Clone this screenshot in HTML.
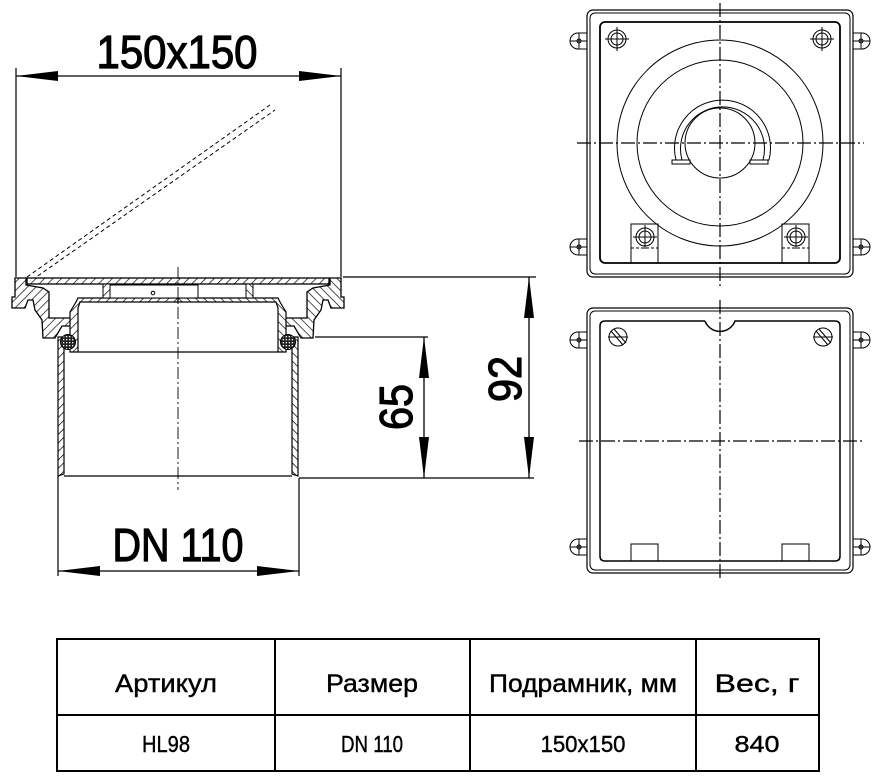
<!DOCTYPE html>
<html><head><meta charset="utf-8"><style>
html,body{margin:0;padding:0;background:#fff;}
svg{display:block;}
text{font-family:"Liberation Sans Narrow","Liberation Sans",sans-serif;fill:#000;}
.d{stroke:#000;stroke-width:1.2;}
.t{stroke:#000;stroke-width:0.4;}
</style></head><body>
<svg width="874" height="777" viewBox="0 0 874 777" xmlns="http://www.w3.org/2000/svg">
<defs>
<pattern id="h" width="6" height="6" patternUnits="userSpaceOnUse" patternTransform="rotate(45)">
<rect width="6" height="6" fill="#fff"/><line x1="0" y1="0" x2="0" y2="6" stroke="#000" stroke-width="1.4"/></pattern>
<pattern id="x" width="3" height="3" patternUnits="userSpaceOnUse">
<rect width="3" height="3" fill="#222"/><rect width="1.3" height="1.3" fill="#fff"/></pattern>
<g id="half">
<polygon points="15,278 26,278 26,285 43,288 49,292 49,318 74,318 74,326 62,326 55,338 43,338 42,320 35,310 33,300 28,300 25,308 12,308 12,297 15,297" fill="url(#h)" stroke="#000" stroke-width="1.3"/>
<polygon points="70,352 70,312 76,302 78,298 178,298 178,302 80,302 78,308 78,352" fill="url(#h)" stroke="#000" stroke-width="1.2"/>
<polygon points="58,337 64,337 64,474 58,476" fill="url(#h)" stroke="#000" stroke-width="1.2"/>
<circle cx="68" cy="342" r="7.5" fill="url(#x)" stroke="#000"/>
<polygon points="103,284 110,284 110,298 103,298" fill="url(#h)" stroke="#000"/>
</g>
</defs>
<!-- dimension 150x150 -->
<line x1="16" y1="68" x2="16" y2="277" stroke="#000" stroke-width="1.2"/>
<line x1="341" y1="68" x2="341" y2="277" stroke="#000" stroke-width="1.2"/>
<line x1="16" y1="76" x2="341" y2="76" stroke="#000" stroke-width="1.3"/>
<polygon points="16,76 58,71 58,81" fill="#000"/>
<polygon points="341,76 299,71 299,81" fill="#000"/>
<text class="d" x="177" y="68" font-size="46" text-anchor="middle" textLength="161" lengthAdjust="spacingAndGlyphs">150x150</text>
<!-- open lid dashed -->
<line x1="27" y1="277" x2="270" y2="105" stroke="#000" stroke-width="1" stroke-dasharray="4,3"/>
<line x1="32" y1="280" x2="275" y2="110" stroke="#000" stroke-width="1" stroke-dasharray="4,3"/>
<!-- lid -->
<rect x="27" y="278" width="302" height="6" fill="url(#h)" stroke="#000" stroke-width="1.3"/>
<use href="#half"/>
<use href="#half" transform="translate(356,0) scale(-1,1)"/>
<rect x="110" y="285" width="88" height="13" fill="#fff" stroke="#000"/>
<circle cx="153" cy="293" r="1.8" fill="none" stroke="#000"/>
<line x1="78" y1="352" x2="278" y2="352" stroke="#000" stroke-width="1.3"/>
<line x1="64" y1="476" x2="292" y2="476" stroke="#000" stroke-width="1.3"/>
<line x1="178" y1="267" x2="178" y2="490" stroke="#000" stroke-width="0.9" stroke-dasharray="12,3,2,3"/>
<!-- dim 65 / 92 -->
<line x1="343" y1="277" x2="536" y2="277" stroke="#000" stroke-width="1.2"/>
<line x1="315" y1="337" x2="428" y2="337" stroke="#000" stroke-width="1.2"/>
<line x1="299" y1="478" x2="534" y2="478" stroke="#000" stroke-width="1.2"/>
<line x1="424" y1="337" x2="424" y2="478" stroke="#000" stroke-width="1.3"/>
<polygon points="424,337 419,378 429,378" fill="#000"/>
<polygon points="424,478 419,437 429,437" fill="#000"/>
<line x1="529" y1="277" x2="529" y2="478" stroke="#000" stroke-width="1.3"/>
<polygon points="529,277 524,318 534,318" fill="#000"/>
<polygon points="529,478 524,437 534,437" fill="#000"/>
<text class="d" transform="translate(412,407) rotate(-90)" font-size="46" text-anchor="middle" textLength="46" lengthAdjust="spacingAndGlyphs">65</text>
<text class="d" transform="translate(521,379) rotate(-90)" font-size="46" text-anchor="middle" textLength="46" lengthAdjust="spacingAndGlyphs">92</text>
<!-- DN 110 -->
<line x1="58" y1="476" x2="58" y2="576" stroke="#000" stroke-width="1.2"/>
<line x1="299" y1="478" x2="299" y2="576" stroke="#000" stroke-width="1.2"/>
<line x1="58" y1="571" x2="299" y2="571" stroke="#000" stroke-width="1.3"/>
<polygon points="58,571 100,566 100,576" fill="#000"/>
<polygon points="299,571 257,566 257,576" fill="#000"/>
<text class="d" x="178" y="561" font-size="46" text-anchor="middle" textLength="131" lengthAdjust="spacingAndGlyphs">DN 110</text>

<!-- Top view -->
<g fill="none" stroke="#000">
<rect x="587" y="10" width="266" height="267" rx="6" stroke-width="1.2"/>
<rect x="590" y="13" width="260" height="261" rx="5" stroke-width="1"/>
<rect x="600" y="22" width="240" height="241" rx="5" stroke-width="1.8"/>
<circle cx="720" cy="143" r="103"/>
<circle cx="720" cy="143" r="83"/>
<path d="M676,160 A48,48 0 1 1 769,160 L763,160 A42,42 0 1 0 682,160 Z"/>
<circle cx="720" cy="143" r="35"/>
<rect x="672" y="160" width="18" height="4"/><rect x="750" y="160" width="18" height="4"/>
<circle cx="617" cy="39" r="9"/><circle cx="617" cy="39" r="6"/>
<circle cx="822" cy="39" r="9"/><circle cx="822" cy="39" r="6"/>
<rect x="631" y="224" width="27" height="39"/><circle cx="645" cy="237" r="9"/><circle cx="645" cy="237" r="6"/>
<rect x="782" y="224" width="27" height="39"/><circle cx="796" cy="237" r="9"/><circle cx="796" cy="237" r="6"/>
<line x1="631" y1="248" x2="658" y2="248" stroke-dasharray="3,2"/>
<line x1="782" y1="248" x2="809" y2="248" stroke-dasharray="3,2"/>
<line x1="720" y1="3" x2="720" y2="287" stroke-dasharray="14,3,2,3" stroke-width="1.2"/>
<line x1="577" y1="143" x2="864" y2="143" stroke-dasharray="14,3,2,3" stroke-width="1.2"/>
<line x1="617" y1="27" x2="617" y2="51"/><line x1="605" y1="39" x2="629" y2="39"/>
<line x1="822" y1="27" x2="822" y2="51"/><line x1="810" y1="39" x2="834" y2="39"/>
<line x1="645" y1="225" x2="645" y2="249"/><line x1="633" y1="237" x2="657" y2="237"/>
<line x1="796" y1="225" x2="796" y2="249"/><line x1="784" y1="237" x2="808" y2="237"/>
</g>
<!-- Bottom view -->
<g fill="none" stroke="#000">
<rect x="587" y="308" width="266" height="265" rx="6" stroke-width="1.2"/>
<rect x="590" y="311" width="260" height="259" rx="5" stroke-width="1"/>
<path d="M705,321 L605,321 Q600,321 600,326 L600,556 Q600,561 605,561 L835,561 Q840,561 840,556 L840,326 Q840,321 835,321 L735,321 A16,16 0 0 1 705,321" stroke-width="1.5"/>
<circle cx="618" cy="337" r="9"/><line x1="611" y1="331" x2="623" y2="345"/><line x1="614" y1="329" x2="626" y2="343"/>
<circle cx="823" cy="337" r="9"/><line x1="816" y1="331" x2="828" y2="345"/><line x1="819" y1="329" x2="831" y2="343"/>
<line x1="608" y1="337" x2="628" y2="337"/><line x1="813" y1="337" x2="833" y2="337"/>
<rect x="631" y="544" width="27" height="17"/><rect x="782" y="544" width="27" height="17"/>
<line x1="720" y1="300" x2="720" y2="580" stroke-dasharray="14,3,2,3" stroke-width="1.2"/>
<line x1="579" y1="441" x2="862" y2="441" stroke-dasharray="14,3,2,3" stroke-width="1.2"/>
</g>
<!-- ears -->
<g fill="none" stroke="#000">
<g id="ear"><path d="M587,33 L578,33 A8,8 0 0 0 578,49 L587,49"/><circle cx="579" cy="41" r="2"/><line x1="570" y1="41" x2="587" y2="41"/><line x1="579" y1="33" x2="579" y2="49"/></g>
<use href="#ear" transform="translate(0,206)"/>
<use href="#ear" transform="translate(0,299)"/>
<use href="#ear" transform="translate(0,506)"/>
<use href="#ear" transform="translate(1440,0) scale(-1,1)"/>
<use href="#ear" transform="translate(1440,206) scale(-1,1)"/>
<use href="#ear" transform="translate(1440,299) scale(-1,1)"/>
<use href="#ear" transform="translate(1440,506) scale(-1,1)"/>
</g>
<!-- table -->
<g stroke="#000" stroke-width="2" fill="none">
<rect x="57" y="639" width="762" height="132"/>
<line x1="57" y1="715" x2="819" y2="715"/>
<line x1="275" y1="639" x2="275" y2="771"/>
<line x1="470" y1="639" x2="470" y2="771"/>
<line x1="696" y1="639" x2="696" y2="771"/>
</g>
<g font-size="25" text-anchor="middle" class="t">
<text x="166" y="692" textLength="102" lengthAdjust="spacingAndGlyphs">Артикул</text>
<text x="372" y="692" textLength="92" lengthAdjust="spacingAndGlyphs">Размер</text>
<text x="583" y="692" textLength="188" lengthAdjust="spacingAndGlyphs">Подрамник, мм</text>
<text x="757" y="692" textLength="85" lengthAdjust="spacingAndGlyphs">Вес, г</text>
</g>
<g font-size="23" text-anchor="middle" class="t">
<text x="166" y="752" textLength="48" lengthAdjust="spacingAndGlyphs">HL98</text>
<text x="372" y="752" textLength="62" lengthAdjust="spacingAndGlyphs">DN 110</text>
<text x="583" y="752" textLength="85" lengthAdjust="spacingAndGlyphs">150x150</text>
<text x="757" y="752" textLength="45" lengthAdjust="spacingAndGlyphs">840</text>
</g>
</svg>
</body></html>
